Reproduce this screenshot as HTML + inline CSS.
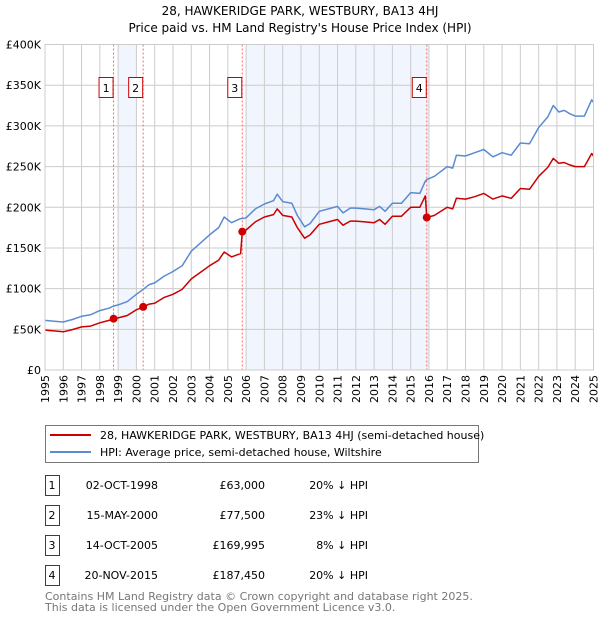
<!DOCTYPE html>
<html><head><meta charset="utf-8"><style>
body{margin:0;background:#fff;}
svg{display:block;font-family:"DejaVu Sans","Liberation Sans",sans-serif;}
</style></head><body>
<svg id="chart" width="600" height="620" viewBox="0 0 600 620">
<text x="300" y="15" text-anchor="middle" font-size="12" fill="#000">28, HAWKERIDGE PARK, WESTBURY, BA13 4HJ</text>
<text x="300" y="32" text-anchor="middle" font-size="12" fill="#000">Price paid vs. HM Land Registry's House Price Index (HPI)</text>
<g id="plot"></g>
<g>
<rect x="45.5" y="425.5" width="433" height="37" fill="#fff" stroke="#777"/>
<line x1="50" y1="435" x2="91" y2="435" stroke="#cc0000" stroke-width="2"/>
<text x="100" y="439" font-size="11">28, HAWKERIDGE PARK, WESTBURY, BA13 4HJ (semi-detached house)</text>
<line x1="50" y1="452" x2="91" y2="452" stroke="#5b8bd0" stroke-width="2"/>
<text x="100" y="456" font-size="11">HPI: Average price, semi-detached house, Wiltshire</text>
</g>
<g id="table" font-size="11"></g>
<text x="45" y="600" font-size="11" fill="#777">Contains HM Land Registry data © Crown copyright and database right 2025.</text>
<text x="45" y="611" font-size="11" fill="#777">This data is licensed under the Open Government Licence v3.0.</text>
</svg>
<script>
const times=[1995.0,1995.5,1996.0,1996.5,1997.0,1997.5,1998.0,1998.5,1998.75,1999.0,1999.5,2000.0,2000.37,2000.7,2001.0,2001.5,2002.0,2002.5,2003.0,2003.5,2004.0,2004.5,2004.8,2005.2,2005.7,2005.79,2006.0,2006.5,2007.0,2007.5,2007.7,2008.0,2008.5,2008.8,2009.2,2009.5,2010.0,2010.5,2011.0,2011.3,2011.7,2012.0,2012.5,2013.0,2013.3,2013.6,2014.0,2014.5,2015.0,2015.5,2015.8,2015.88,2016.3,2017.0,2017.3,2017.5,2018.0,2018.5,2019.0,2019.5,2020.0,2020.5,2021.0,2021.5,2022.0,2022.5,2022.8,2023.1,2023.4,2023.7,2024.0,2024.5,2024.9,2025.0];
const hpiValues=[61,60,59,62,66,68,73,76,78.5,80,84,93,99,105,107,115,121,128,146,156,166,175,188,181,186,186,187,198,204,208,216,207,205,190,176,180,195,198,201,193,199,199,198,197,201,195,205,205,218,217,232,234,238,250,248,264,263,267,271,262,267,264,279,278,298,311,325,317,319,315,312,312,332,329];
const paidValues=[49,48,47,49.6,53,54,58,61,63,64,67,74,77.5,81,82,89,93,99,112,120,128,135,145,139,143,169.995,172,182,188,191,198,190,188,175,162,166,179,182,185,178,183,183,182,181,185,179,189,189,200,200,214,187.45,190,200,198,211,210,213,217,210,214,211,223,222,238,249,260,254,255,252,250,250,266,263];
const saleTimes=[1998.75,2000.37,2005.79,2015.88];
const salePrices=[63,77.5,169.995,187.45];
const saleLabels=["1","2","3","4"];
const saleDates=["02-OCT-1998","15-MAY-2000","14-OCT-2005","20-NOV-2015"];
const salePriceText=["£63,000","£77,500","£169,995","£187,450"];
const saleDiff=["20% ↓ HPI","23% ↓ HPI","8% ↓ HPI","20% ↓ HPI"];
const yTicks=[0,50,100,150,200,250,300,350,400];
const yTickLabels=["£0","£50K","£100K","£150K","£200K","£250K","£300K","£350K","£400K"];
const xYears=[1995,1996,1997,1998,1999,2000,2001,2002,2003,2004,2005,2006,2007,2008,2009,2010,2011,2012,2013,2014,2015,2016,2017,2018,2019,2020,2021,2022,2023,2024,2025];
const shadeRanges=[[1999,2000],[2006,2016]];

const NS="http://www.w3.org/2000/svg";
const X0=45,X1=593.5,Y0=370,Y1=44.5;
const xs=t=>X0+(t-1995)/30*(X1-X0);
const ys=v=>Y0-v/400*(Y0-Y1);
const plot=document.getElementById('plot');
function mk(tag,attrs,parent){const e=document.createElementNS(NS,tag);for(const k in attrs)e.setAttribute(k,attrs[k]);(parent||plot).appendChild(e);return e;}

shadeRanges.forEach(r=>{
  const e=mk('rect',{x:xs(r[0]),y:Y1,width:xs(r[1])-xs(r[0]),height:Y0-Y1,fill:'#eef3fd',opacity:0.8});
  
  
});
yTicks.forEach((v,i)=>{
  const g=mk('line',{x1:X0,x2:X1,y1:ys(v),y2:ys(v),stroke:'#ccc','stroke-width':1});
  
  
  const t=mk('text',{x:X0-4,y:ys(v)+4,'text-anchor':'end','font-size':11});
  t.textContent=yTickLabels[i];
  
  
});
xYears.forEach(y=>{
  const g=mk('line',{x1:xs(y),x2:xs(y),y1:Y1,y2:Y0,stroke:'#ccc','stroke-width':1});
  
  
  const t=mk('text',{x:0,y:0,'text-anchor':'end','font-size':11,transform:`translate(${xs(y)+4},${Y0+5}) rotate(-90)`});
  t.textContent=y;
  
  
});
saleTimes.forEach((t,i)=>{
  const l=mk('line',{x1:xs(t),x2:xs(t),y1:Y1,y2:Y0,stroke:'#ff6666','stroke-width':1,'stroke-dasharray':'2,2'});
  
  
  const b=mk('rect',{x:xs(t)-14.5,y:77.5,width:14,height:20,fill:'#fff',stroke:'#cc0000'});
  
  
  const tx=mk('text',{x:xs(t)-7.5,y:92,'text-anchor':'middle','font-size':11});
  tx.textContent=saleLabels[i];
  
  
});
function path(vals,color,name){
  const d=times.map((t,i)=>(i?'L':'M')+xs(t).toFixed(1)+','+ys(vals[i]).toFixed(1)).join('');
  const p=mk('path',{d:d,fill:'none',stroke:color,'stroke-width':1.5,'stroke-linejoin':'round'});
  
  
}
path(hpiValues,'#5b8bd0','hpi-line');
path(paidValues,'#cc0000','price-paid-line');
saleTimes.forEach((t,i)=>{
  const c=mk('circle',{cx:xs(t),cy:ys(salePrices[i]),r:4,fill:'#cc0000'});
  
  
});
mk('rect',{x:X0,y:Y1,width:X1-X0,height:Y0-Y1,fill:'none',stroke:'#ccc'});

const table=document.getElementById('table');
saleLabels.forEach((lab,i)=>{
  const y=475+i*30;
  const b=mk('rect',{x:45.5,y:y+0.5,width:14,height:20,fill:'#fff',stroke:'#cc0000'},table);
  
  
  const vals=[[52,lab,'middle'],[158,saleDates[i],'end'],[265,salePriceText[i],'end'],[368,saleDiff[i],'end']];
  vals.forEach(v=>{
    const t=mk('text',{x:v[0],y:y+14,'text-anchor':v[2]},table);
    t.textContent=v[1];
    
    
  });
});
</script>
</body></html>
